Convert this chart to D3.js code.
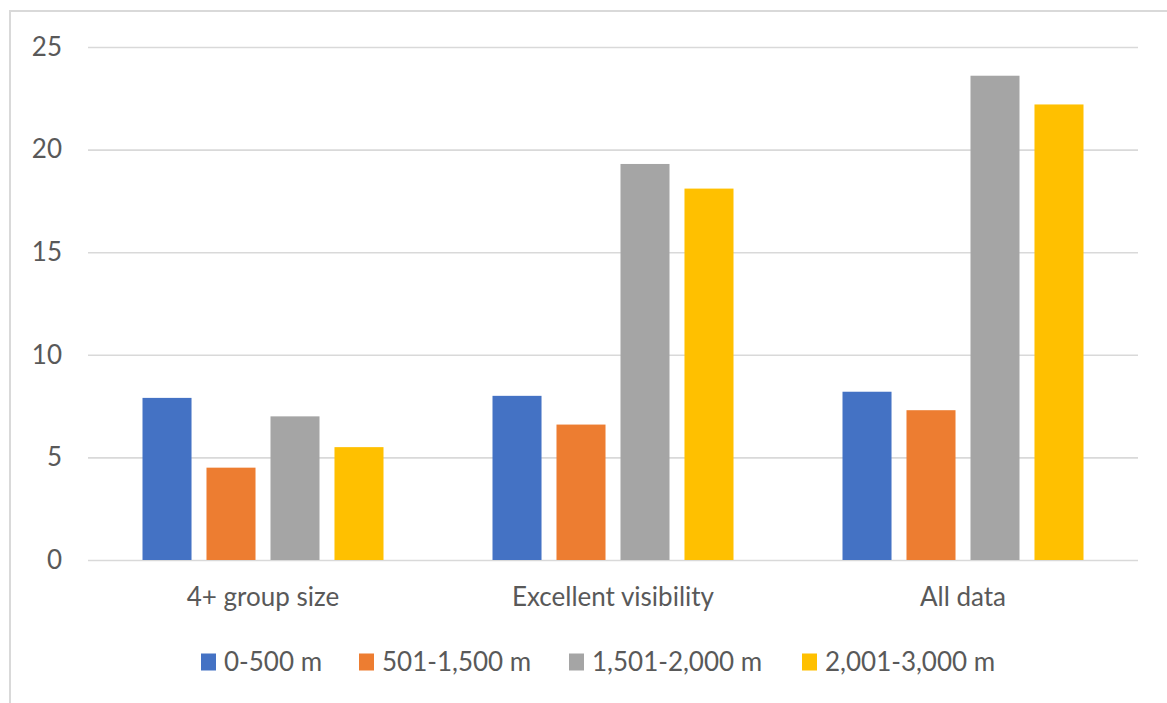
<!DOCTYPE html>
<html>
<head>
<meta charset="utf-8">
<script src="https://cdn.jsdelivr.net/npm/d3@7"></script>
<style>
	body { margin: 0; background: #fff; }
	svg text { font-family: Lato, "Open Sans", sans-serif; fill: #595959; }
</style>
</head>
<body>
<svg id="chart" width="1167" height="703"></svg>
<script>
(function(){

var categories = ["4+ group size", "Excellent visibility", "All data"];
var seriesNames = ["0-500 m", "501-1,500 m", "1,501-2,000 m", "2,001-3,000 m"];
var seriesColors = ["#4472C4", "#ED7D31", "#A5A5A5", "#FFC000"];
// one array per series, values per category
var values = [
	[7.9, 8.0, 8.2],
	[4.5, 6.6, 7.3],
	[7.0, 19.3, 23.6],
	[5.5, 18.1, 22.2]
];
var yTicks = [0, 5, 10, 15, 20, 25];

var PLOT_LEFT = 88,
	PLOT_RIGHT = 1138,
	PLOT_TOP = 47,
	PLOT_BOTTOM = 560;
var GRID_COLOR = "#d9d9d9";

var svg = d3.select("#chart");

// outer frame (only top & left visible in the crop)
svg.append("rect")
	.attr("x", 10).attr("y", 11)
	.attr("width", 1200).attr("height", 720)
	.attr("fill", "none")
	.attr("stroke", GRID_COLOR)
	.attr("stroke-width", 2);

var y = d3.scaleLinear().domain([0, 25]).range([PLOT_BOTTOM, PLOT_TOP]);

var x0 = d3.scaleBand().domain(categories).range([PLOT_LEFT, PLOT_RIGHT]);
var groupPad = 54.5;
var x1 = d3.scaleBand()
	.domain(d3.range(seriesNames.length))
	.range([groupPad, x0.bandwidth() - groupPad])
	.paddingInner(0.234);

// gridlines + y labels
var yAxis = d3.axisLeft(y)
	.tickValues(yTicks)
	.tickSize(-(PLOT_RIGHT - PLOT_LEFT))
	.tickPadding(26);

var gy = svg.append("g")
	.attr("transform", "translate(" + PLOT_LEFT + ",0)")
	.call(yAxis);
gy.select(".domain").remove();
gy.selectAll(".tick line")
	.attr("stroke", GRID_COLOR)
	.attr("stroke-width", 1.6);
gy.selectAll(".tick text")
	.attr("font-size", 26)
	.attr("fill", "#595959");

// bars
var flat = [];
values.forEach(function(row, s) {
	row.forEach(function(v, c) {
		flat.push({ s: s, c: c, v: v });
	});
});

svg.append("g").selectAll("rect")
	.data(flat)
	.enter().append("rect")
	.attr("x", function(d) { return x0(categories[d.c]) + x1(d.s); })
	.attr("y", function(d) { return y(d.v); })
	.attr("width", x1.bandwidth())
	.attr("height", function(d) { return y(0) - y(d.v); })
	.attr("fill", function(d) { return seriesColors[d.s]; });

// category labels
var xAxis = d3.axisBottom(x0).tickSize(0).tickPadding(28);
var gx = svg.append("g")
	.attr("transform", "translate(0," + PLOT_BOTTOM + ")")
	.call(xAxis);
gx.select(".domain").remove();
gx.selectAll(".tick text")
	.attr("font-size", 26)
	.attr("fill", "#595959");

// legend
var legendX = [201, 359, 569, 802];
var legend = svg.append("g").selectAll("g")
	.data(seriesNames)
	.enter().append("g")
	.attr("transform", function(d, i) { return "translate(" + legendX[i] + ",662)"; });

legend.append("rect")
	.attr("x", 0).attr("y", -8.5)
	.attr("width", 15).attr("height", 17)
	.attr("fill", function(d, i) { return seriesColors[i]; });

legend.append("text")
	.attr("x", 23)
	.attr("dy", "0.35em")
	.attr("font-size", 26)
	.text(function(d) { return d; });

})();
</script>
</body>
</html>
